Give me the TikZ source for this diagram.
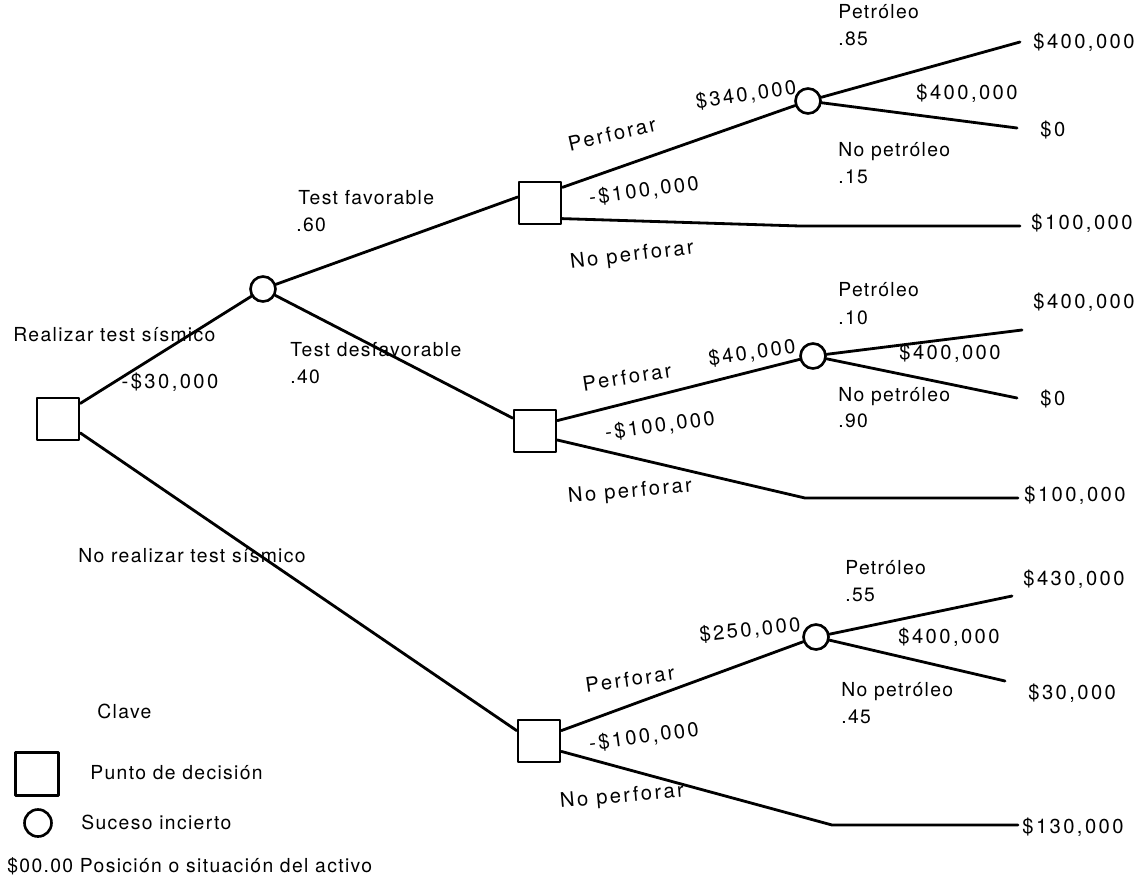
\documentclass[tikz,border=0pt]{standalone}
\usepackage{fontspec}
\setmainfont{TeX Gyre Heros}
\newfontfamily\lblfont[LetterSpace=7]{TeX Gyre Heros}
\newfontfamily\valfont[LetterSpace=12]{TeX Gyre Heros}
\usetikzlibrary{calc}

\begin{document}
\begin{tikzpicture}[x=0.02cm,y=-0.02cm,line cap=round,line join=round,
  rama/.style={line width=1.6pt},
  decision/.style={draw,line width=1.5pt,minimum size=0.84cm,inner sep=0pt},
  chance/.style={circle,draw,line width=1.5pt,minimum size=0.5cm,inner sep=0pt},
  lbl/.style={inner sep=0pt,anchor=base west,font=\fontsize{11}{13}\selectfont\lblfont},
  rot/.style={inner sep=0pt,anchor=center,font=\fontsize{11.5}{13}\selectfont\valfont},
  val/.style={inner sep=0pt,anchor=west,font=\fontsize{11.5}{13}\selectfont\valfont}]
\path[use as bounding box] (0,0) rectangle (1141,882);
\fill[white] (0,0) rectangle (1141,882);
% nodos de decisión y de azar
\node[decision] (raiz) at (58,419) {};
\node[chance] (azar) at (263,289) {};
\node[decision] (decA) at (540,203) {};
\node[decision] (decB) at (535,431) {};
\node[decision] (decC) at (539,741) {};
\node[chance] (azarA) at (808,101) {};
\node[chance] (azarB) at (813,356) {};
\node[chance] (azarC) at (816,637) {};
% extremos de las ramas
\coordinate (tA1) at (1020,42);
\coordinate (tA2) at (1017,128);
\coordinate (tA3) at (1020,226);
\coordinate (tB1) at (1022,330);
\coordinate (tB2) at (1017,398);
\coordinate (tB3) at (1018,498);
\coordinate (tC1) at (1012,596);
\coordinate (tC2) at (1005,681);
\coordinate (tC3) at (1018,825);
% ramas
\draw[rama] (raiz.35) -- (azar);
\draw[rama] (raiz.-32) -- (decC.155);
\draw[rama] (azar) -- (decA.165);
\draw[rama] (azar) -- (decB.150);
\draw[rama] (decA.35) -- (azarA);
\draw[rama] (azarA) -- (tA1);
\draw[rama] (azarA) -- (tA2);
\draw[rama] (decA.-35) -- (800,226) -- (tA3);
\draw[rama] (decB.25) -- (azarB);
\draw[rama] (azarB) -- (tB1);
\draw[rama] (azarB) -- (tB2);
\draw[rama] (decB.-22) -- (805,498) -- (tB3);
\draw[rama] (decC.25) -- (azarC);
\draw[rama] (azarC) -- (tC1);
\draw[rama] (azarC) -- (tC2);
\draw[rama] (decC.-25) -- (832,825) -- (tC3);
% textos del primer nivel
\node[lbl] (lRealizar) at (13,341) {Realizar test sísmico};
\node[rot] (lCosto) at (170,382) {-\$30,000};
\node[lbl] (lFav) at (298,204) {Test favorable};
\node[lbl] (pFav) at (296,231) {.60};
\node[lbl] (lDesf) at (290,356) {Test desfavorable};
\node[lbl] (pDesf) at (290,383) {.40};
\node[lbl] (lNoReal) at (78,562) {No realizar test sísmico};
% rama A
\node[rot,rotate=13] (aPerf) at (612,134) {Perforar};
\node[rot,rotate=8] (aEsp) at (746,95) {\$340,000};
\node[rot,rotate=8] (aCosto) at (644,191) {-\$100,000};
\node[rot,rotate=7] (aNoPerf) at (632,256) {No perforar};
\node[lbl] (aPet) at (838,19) {Petróleo};
\node[lbl] (aP1) at (838,46) {.85};
\node[rot] (aIng) at (967,93) {\$400,000};
\node[lbl] (aNoPet) at (838,156) {No petróleo};
\node[lbl] (aP2) at (838,183) {.15};
\node[val] at (1033,42) {\$400,000};
\node[val] at (1040,130) {\$0};
\node[val] at (1031,223) {\$100,000};
% rama B
\node[rot,rotate=9] (bPerf) at (627,377) {Perforar};
\node[rot,rotate=8] (bEsp) at (752,353) {\$40,000};
\node[rot,rotate=8] (bCosto) at (660,426) {-\$100,000};
\node[rot,rotate=5] (bNoPerf) at (630,492) {No perforar};
\node[lbl] (bPet) at (838,296) {Petróleo};
\node[lbl] (bP1) at (838,324) {.10};
\node[rot] (bIng) at (950,353) {\$400,000};
\node[lbl] (bNoPet) at (838,401) {No petróleo};
\node[lbl] (bP2) at (838,427) {.90};
\node[val] at (1033,302) {\$400,000};
\node[val] at (1040,399) {\$0};
\node[val] at (1024,495) {\$100,000};
% rama C
\node[rot,rotate=8] (cPerf) at (630,679) {Perforar};
\node[rot,rotate=6] (cEsp) at (750,630) {\$250,000};
\node[rot,rotate=8] (cCosto) at (644,737) {-\$100,000};
\node[rot,rotate=5] (cNoPerf) at (622,797) {No perforar};
\node[lbl] (cPet) at (845,574) {Petróleo};
\node[lbl] (cP1) at (845,601) {.55};
\node[rot] (cIng) at (949,637) {\$400,000};
\node[lbl] (cNoPet) at (841,696) {No petróleo};
\node[lbl] (cP2) at (841,723) {.45};
\node[val] at (1023,579) {\$430,000};
\node[val] at (1028,693) {\$30,000};
\node[val] at (1022,827) {\$130,000};
% clave
\node[lbl] (clave) at (97,718) {Clave};
\node[decision,minimum size=0.86cm] (leyDec) at (37,774) {};
\node[lbl] at (90,779) {Punto de decisión};
\node[chance,minimum size=0.54cm] (leyAzar) at (38,823) {};
\node[lbl] at (81,829) {Suceso incierto};
\node[lbl] at (7,872) {\$00.00 Posición o situación del activo};
\end{tikzpicture}
\end{document}
